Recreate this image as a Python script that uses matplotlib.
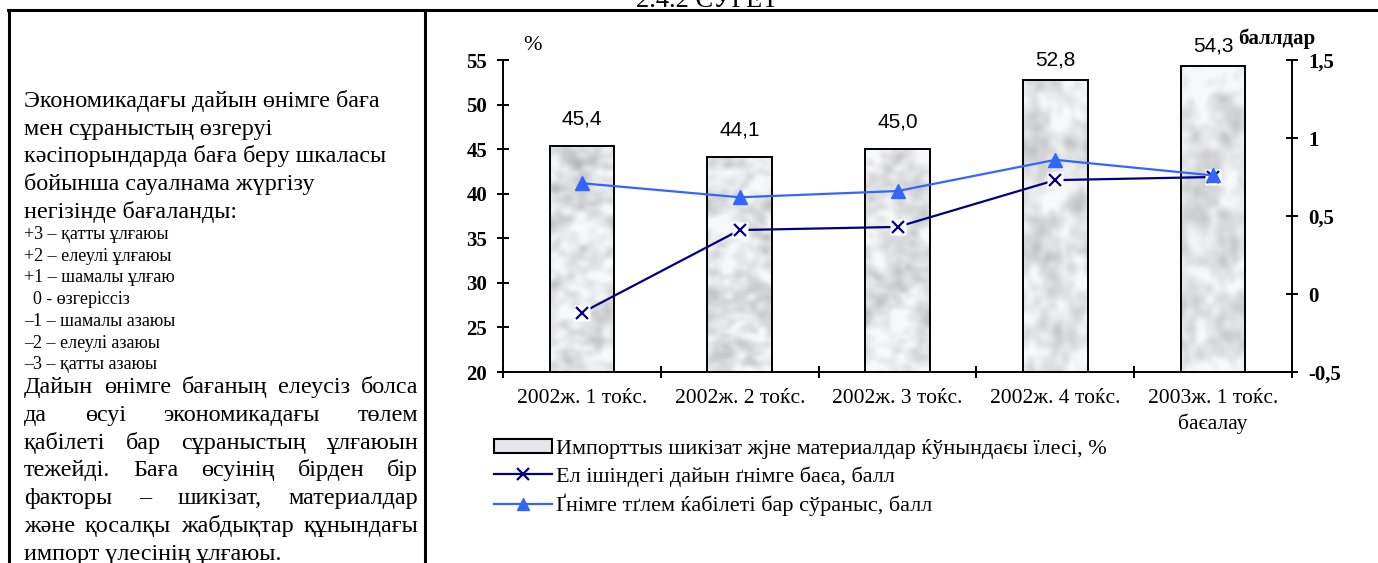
import numpy as np
import matplotlib
matplotlib.use('Agg')
import matplotlib.pyplot as plt
from matplotlib.lines import Line2D
from matplotlib.patches import Rectangle

W, H = 1378, 563
DPI = 100

# ---- data ----
quarters = ['2002ж. 1 тоќс.', '2002ж. 2 тоќс.', '2002ж. 3 тоќс.',
            '2002ж. 4 тоќс.', '2003ж. 1 тоќс.\nбаєалау']
import_share = [45.4, 44.1, 45.0, 52.8, 54.3]          # %, bars (left axis)
price_score = [-0.12, 0.41, 0.43, 0.73, 0.75]          # балл, right axis
demand_score = [0.71, 0.62, 0.66, 0.86, 0.76]          # балл, right axis
left_ticks = [20, 25, 30, 35, 40, 45, 50, 55]
right_ticks = [-0.5, 0, 0.5, 1, 1.5]
right_labels = ['-0,5', '0', '0,5', '1', '1,5']
legend_labels = ['Импорттыs шикізат жјне материалдар ќўнындаєы їлесі, %',
                 'Ел ішіндегі дайын ґнімге баєа, балл',
                 'Ґнімге тґлем ќабілеті бар сўраныс, балл']

intro_lines = ['Экономикадағы дайын өнімге баға',
               'мен сұраныстың өзгеруі',
               'кәсіпорындарда баға беру шкаласы',
               'бойынша сауалнама жүргізу',
               'негізінде бағаланды:']
scale_lines = ['+3 – қатты ұлғаюы',
               '+2 – елеулі ұлғаюы',
               '+1 – шамалы ұлғаю',
               '  0 - өзгеріссіз',
               '–1 – шамалы азаюы',
               '–2 – елеулі азаюы',
               '–3 – қатты азаюы']
para_lines = ['Дайын өнімге бағаның елеусіз болса',
              'да өсуі экономикадағы төлем',
              'қабілеті бар сұраныстың ұлғаюын',
              'тежейді. Баға өсуінің бірден бір',
              'факторы – шикізат, материалдар',
              'және қосалқы жабдықтар құнындағы',
              'импорт үлесінің ұлғаюы.']

SERIF = ['Liberation Serif', 'DejaVu Serif']
SANS = ['Liberation Sans', 'DejaVu Sans']
NAVY = '#000080'
BLUE = '#3366ff'


def fx(px):
    return px / W


def fy(py):
    return 1 - py / H


def marble(h, w, seed):
    # soft grey mottling for the bar fill (decoration only)
    rng = np.random.default_rng(seed)
    n = rng.standard_normal((h, w))
    ky = np.fft.fftfreq(h)[:, None]
    kx = np.fft.fftfreq(w)[None, :]
    out = np.zeros((h, w))
    for s, amp in [(0.025, 1.0), (0.08, 0.35)]:
        k = np.exp(-(kx ** 2 + ky ** 2) / (2 * s ** 2))
        out += amp * np.real(np.fft.ifft2(np.fft.fft2(n) * k))
    out = (out - out.mean()) / out.std()
    g = np.clip(0.89 - 0.05 * out, 0.64, 0.97)
    return np.dstack([g, g + 0.004, g + 0.012]).clip(0, 1)


fig = plt.figure(figsize=(W / DPI, H / DPI), dpi=DPI)

# ---- page frame ----
for xs, ys in [((8, W), (10, 10)), ((9, 9), (10, H)), ((425, 425), (10, H))]:
    fig.add_artist(Line2D([fx(xs[0]), fx(xs[1])], [fy(ys[0]), fy(ys[1])],
                          transform=fig.transFigure, color='black', lw=2.2))
fig.text(fx(707), fy(7), '2.4.2 СУРЕТ', family=SERIF, fontsize=19,
         ha='center', va='baseline')

# ---- left text cell ----
for i, s in enumerate(intro_lines):
    fig.text(fx(24), fy(107 + 27.7 * i), s, family=SERIF, fontsize=17.4,
             va='baseline')
for i, s in enumerate(scale_lines):
    fig.text(fx(24), fy(239 + 21.7 * i), s, family=SERIF, fontsize=13,
             va='baseline')

renderer = fig.canvas.get_renderer()
left_px, right_px = 24, 418
for i, s in enumerate(para_lines):
    yb = fy(393 + 27.8 * i)
    if i == len(para_lines) - 1:
        fig.text(fx(left_px), yb, s, family=SERIF, fontsize=17.4, va='baseline')
        continue
    words = s.split()
    arts = [fig.text(0, yb, w_, family=SERIF, fontsize=17.4, va='baseline')
            for w_ in words]
    widths = [a.get_window_extent(renderer).width for a in arts]
    gap = (right_px - left_px - sum(widths)) / (len(words) - 1)
    x = left_px
    for a, wd in zip(arts, widths):
        a.set_x(fx(x))
        x += wd + gap

# ---- chart ----
ax = fig.add_axes([fx(503), fy(372), fx(1292) - fx(503), fy(60) - fy(372)])
ax2 = ax.twinx()
xpos = np.arange(len(quarters))
bw = 0.41

bars = ax.bar(xpos, import_share, width=bw, color='#e4e6e9', zorder=2, lw=0)
for i, b in enumerate(bars):
    im = ax.imshow(marble(160, 40, i + 3),
                   extent=(b.get_x(), b.get_x() + bw, 20, b.get_height()),
                   aspect='auto', interpolation='bicubic', zorder=2.1)
    im.set_clip_path(b)
ax.bar(xpos, import_share, width=bw, facecolor='none', edgecolor='black',
       lw=1.4, zorder=2.2)

for x, v in zip(xpos, import_share):
    off = 20 if v > 50 else 27
    ax.annotate(f'{v:.1f}'.replace('.', ','), (x, v), xytext=(0, off * 0.72),
                textcoords='offset points', ha='center', va='center',
                family=SANS, fontsize=15)

ax.set_xlim(-0.5, len(quarters) - 0.5)
ax.set_ylim(20, 55)
ax.set_yticks(left_ticks)
ax.set_yticklabels([str(t) for t in left_ticks], family=SERIF,
                   fontweight='bold', fontsize=15)
ax.set_xticks(np.arange(-0.5, len(quarters)))
ax.set_xticklabels([])
ax.set_xticks(xpos, minor=True)
ax.set_xticklabels(quarters, minor=True, family=SERIF, fontsize=15.5,
                   linespacing=1.4)
ax.tick_params(axis='x', which='major', direction='inout', length=9, width=1.4)
ax.tick_params(axis='x', which='minor', length=0, pad=12)
ax.tick_params(axis='y', direction='inout', length=9, width=1.4, pad=7)
for sp in ['top', 'right']:
    ax.spines[sp].set_visible(False)
for sp in ['left', 'bottom']:
    ax.spines[sp].set_linewidth(1.4)

ax2.set_ylim(-0.5, 1.5)
ax2.set_yticks(right_ticks)
ax2.set_yticklabels(right_labels, family=SERIF, fontweight='bold', fontsize=15)
ax2.tick_params(axis='y', direction='inout', length=9, width=1.4, pad=7)
for sp in ['top', 'left', 'bottom']:
    ax2.spines[sp].set_visible(False)
ax2.spines['right'].set_linewidth(1.4)

ax2.plot(xpos, price_score, color=NAVY, lw=1.6, zorder=3)
ax2.plot(xpos, price_score, ls='none', marker='s', ms=11, mfc='white',
         mec='none', zorder=4)
ax2.plot(xpos, price_score, ls='none', marker='x', ms=9, mew=1.6,
         color=NAVY, zorder=5)
ax2.plot(xpos, demand_score, color=BLUE, lw=1.6, marker='^', ms=10, zorder=6)

fig.text(fx(533), fy(46), '%', family=SERIF, fontsize=16, ha='center', va='center')
fig.text(fx(1277), fy(39), 'баллдар', family=SERIF, fontsize=15,
         fontweight='bold', ha='center', va='center')

handles = [Rectangle((0, 0), 1, 1, facecolor='#e6e7ea', edgecolor='black', lw=1.5),
           Line2D([], [], color=NAVY, lw=1.6, marker='x', ms=9, mew=1.6),
           Line2D([], [], color=BLUE, lw=1.6, marker='^', ms=9)]
fig.legend(handles, legend_labels, loc='upper left',
           bbox_to_anchor=(fx(494), fy(439)), frameon=False,
           prop={'family': SERIF, 'size': 16}, handlelength=2.6,
           handleheight=0.6, handletextpad=0.2, labelspacing=0.32,
           borderpad=0, borderaxespad=0)

fig.savefig('out.png', dpi=DPI)
